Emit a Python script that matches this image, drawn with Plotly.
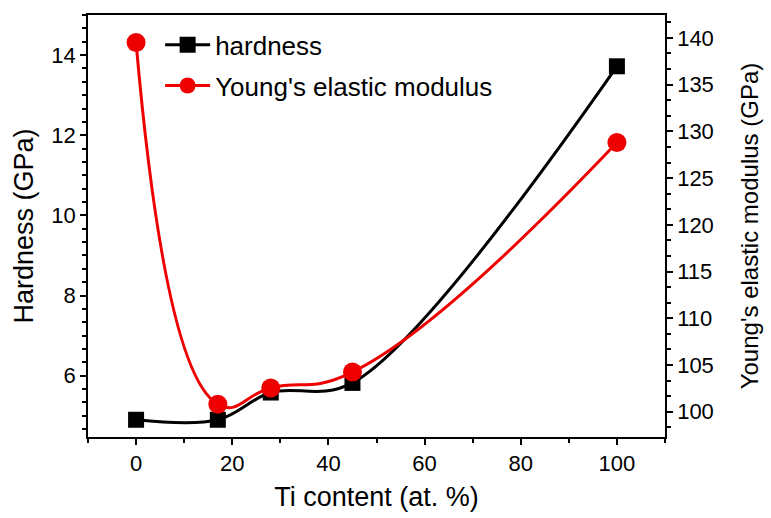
import plotly.graph_objects as go

ti_content = [0, 17, 28, 45, 100]
hardness = [4.9, 4.9, 5.58, 5.82, 13.72]
youngs_modulus = [139.5, 100.8, 102.55, 104.25, 128.8]

FONT = "Liberation Sans, Arial, sans-serif"
TICK = dict(size=22, color="black", family=FONT)
TITLE = dict(size=27, color="black", family=FONT)

fig = go.Figure()
fig.add_trace(go.Scatter(
    x=ti_content, y=hardness, name="hardness", mode="lines+markers",
    line=dict(color="black", width=3, shape="spline", smoothing=1.0),
    marker=dict(symbol="square", size=16, color="black"),
    legendgroup="a", yaxis="y"))
fig.add_trace(go.Scatter(
    x=ti_content, y=youngs_modulus, name="Young's elastic modulus", mode="lines+markers",
    line=dict(color="#ee0000", width=3, shape="spline", smoothing=1.3),
    marker=dict(symbol="circle", size=19, color="#ee0000"),
    legendgroup="b", yaxis="y2"))

axis_common = dict(showline=True, linecolor="black", linewidth=1.5, ticks="outside",
                   tickcolor="black", tickwidth=1.5, ticklen=6, showgrid=False,
                   zeroline=False, tickfont=TICK, automargin=False)
minor_common = dict(ticks="outside", ticklen=4, tickcolor="black", tickwidth=1.5)

fig.update_layout(
    width=771, height=518,
    margin=dict(l=88, r=106, t=15, b=81),
    paper_bgcolor="white", plot_bgcolor="white",
    font=dict(family=FONT, color="black"),
    showlegend=True,
    legend=dict(x=0.125, y=0.985, xanchor="left", yanchor="top",
                font=dict(size=26, color="black", family=FONT),
                bgcolor="rgba(0,0,0,0)", traceorder="grouped", tracegroupgap=4,
                itemwidth=45),
    xaxis=dict(range=[-10, 110], tick0=0, dtick=20, mirror=True,
               minor=dict(dtick=10, **minor_common),
               title=dict(text="Ti content (at. %)", font=TITLE, standoff=12),
               **axis_common),
    yaxis=dict(range=[4.47, 15], tick0=0, dtick=2,
               minor=dict(dtick=1/3, **minor_common),
               title=dict(text="Hardness (GPa)", font=TITLE, standoff=10),
               **axis_common),
    yaxis2=dict(range=[97.3, 142.45], tick0=0, dtick=5, overlaying="y", side="right",
                minor=dict(dtick=5/3, **minor_common),
                title=dict(text="Young's elastic modulus (GPa)", font=dict(size=24, color="black", family=FONT), standoff=28),
                **axis_common),
)

fig.write_html("out.html")
